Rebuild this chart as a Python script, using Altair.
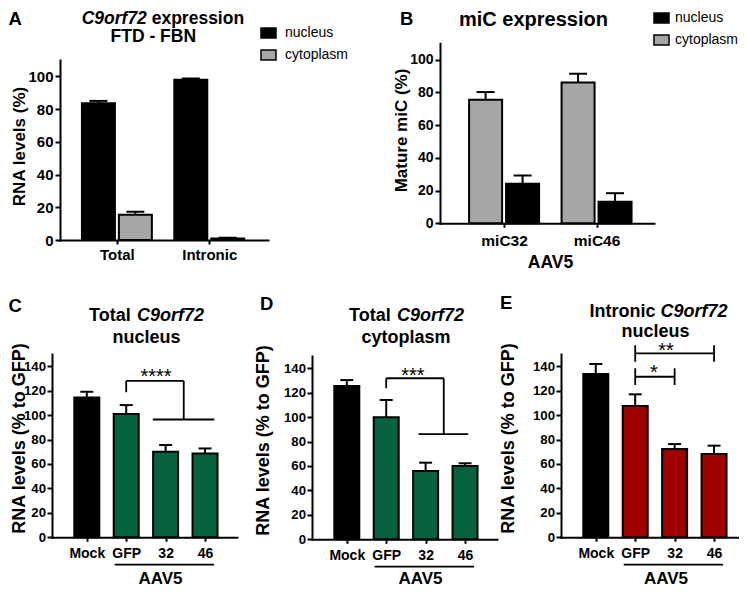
import altair as alt
import pandas as pd

FONT = "Liberation Sans"
GREEN = "#07633f"
RED = "#9e0000"
GRAY = "#a6a6a8"

# ----------------------------- data -----------------------------
a_categories = ["Total", "Intronic"]
a_nucleus = [83.5, 98.0]
a_nucleus_err = [1.5, 0.7]
a_cytoplasm = [15.4, 0.9]
a_cytoplasm_err = [1.9, 0.5]

b_categories = ["miC32", "miC46"]
b_cytoplasm = [75.5, 86.1]
b_cytoplasm_err = [4.7, 5.3]
b_nucleus = [24.1, 13.2]
b_nucleus_err = [5.1, 5.2]

cde_categories = ["Mock", "GFP", "32", "46"]
c_values = [114.5, 100.9, 70.0, 68.5]
c_err = [4.6, 7.3, 5.5, 4.2]
d_values = [125.4, 99.8, 55.9, 60.0]
d_err = [4.9, 14.2, 6.8, 2.2]
e_values = [133.6, 107.4, 72.2, 68.2]
e_err = [8.2, 9.6, 4.1, 6.8]

# significance brackets: [x1, y1, x2, y2] (category units, data units)
c_bracket = [[1, 118.7, 1, 128.0], [1, 128.0, 2.46, 128.0],
             [2.46, 128.0, 2.46, 96.4], [1.675, 96.4, 3.235, 96.4]]
c_stars = [["****", 1.757, 126.2]]
d_bracket = [[1, 123.6, 1, 131.8], [1, 131.8, 2.46, 131.8],
             [2.46, 131.8, 2.46, 86.0], [1.82, 86.0, 3.08, 86.0]]
d_stars = [["***", 1.675, 129.0]]
e_bracket = [[1, 150.5, 3, 150.5], [1, 143.7, 1, 157.2], [3, 143.7, 3, 157.2],
             [1, 131.4, 2, 131.4], [1, 124.6, 1, 138.3], [2, 124.6, 2, 138.3]]
e_stars = [["**", 1.78, 147.4], ["*", 1.476, 129.5]]
aav5_line = [[0.708, -22.4, 3.23, -22.4]]

# ----------------------------- canvas -----------------------------
W, H = 731, 579          # drawing canvas (page minus 8px body margin)
OX, OY = 8, 8            # page offset of the canvas


def cx(px):
    return px - OX


def cy(py):
    return py - OY


BOLD_W = {" ": 278, "C": 722, "9": 556, "o": 611, "r": 389, "f": 333, "7": 556,
          "2": 556, "e": 556, "x": 556, "p": 611, "s": 556, "i": 278, "n": 611,
          "T": 611, "t": 333, "a": 556, "l": 278, "I": 278, "c": 556, "u": 611,
          "y": 556, "m": 889}


def text_width(s, size):
    return sum(BOLD_W.get(ch, 556) for ch in s) * size / 1000.0


ONE = pd.DataFrame({"k": [0]})


def label(text, px, py, size, italic=False, align="left", weight="bold"):
    kw = dict(text=text, font=FONT, fontSize=size, fontWeight=weight, align=align,
              baseline="alphabetic", color="black")
    if italic:
        kw["fontStyle"] = "italic"
    return alt.Chart(ONE).mark_text(**kw).encode(x=alt.value(cx(px)), y=alt.value(cy(py)))


def mixed_line(parts, center, py, size):
    widths = [text_width(t, size) for t, _ in parts]
    space = text_width(" ", size)
    total = sum(widths) + space * (len(parts) - 1)
    x = center - total / 2
    out = []
    for (t, it), w in zip(parts, widths):
        out.append(label(t, x, py, size, italic=it))
        x += w + space
    return out


def grouped_df(cats, series, offsets):
    rows = []
    for s, (vals, errs) in series.items():
        for i, c in enumerate(cats):
            rows.append({"cat": c, "series": s, "pos": i + offsets[s],
                         "value": vals[i], "top": vals[i] + errs[i]})
    return pd.DataFrame(rows)


def simple_df(cats, vals, errs):
    return pd.DataFrame({"cat": cats, "pos": list(range(len(cats))), "value": vals,
                         "top": [v + e for v, e in zip(vals, errs)],
                         "grp": ["Mock" if c == "Mock" else "AAV5" for c in cats]})


def x_axis(labels, y_axis_page, size, pad, title=None, title_cx=0, title_page_y=0, tsize=17):
    kw = dict(orient="bottom", offset=cy(y_axis_page) - H,
              values=list(range(len(labels))), labelExpr=str(labels) + "[datum.value]",
              grid=False, domainColor="black", domainWidth=2, domainCap="square",
              tickColor="black", tickWidth=2, tickSize=4, labelFont=FONT, labelFontSize=size,
              labelFontWeight="bold", labelColor="black", labelPadding=pad,
              labelFlush=False, labelOverlap=False)
    if title:
        kw.update(title=title, titleX=cx(title_cx), titleY=title_page_y - y_axis_page,
                  titleFont=FONT, titleFontSize=tsize, titleFontWeight="bold",
                  titleColor="black", titleBaseline="alphabetic", titleAlign="center")
    else:
        kw.update(title=None)
    return alt.Axis(**kw)


def y_axis(x_axis_page, values, size, pad, title, title_page_x, title_page_y, tsize):
    return alt.Axis(orient="left", offset=-cx(x_axis_page), values=values, grid=False,
                    domainColor="black", domainWidth=2, domainCap="square",
                    tickColor="black", tickWidth=2, tickSize=5, labelFont=FONT,
                    labelFontSize=size, labelFontWeight="bold", labelColor="black",
                    labelPadding=pad, labelFlush=False, labelOverlap=False,
                    title=title, titleX=title_page_x - x_axis_page, titleY=cy(title_page_y),
                    titleFont=FONT, titleFontSize=tsize, titleFontWeight="bold",
                    titleColor="black", titleBaseline="alphabetic", titleAlign="center")


def build_panel(df, box, xdom, ydom, xax, yax, color, bar_w, cap_w, texts,
                segments=None, stars=None):
    x0, x1, y0, y1 = box
    xs = alt.Scale(domain=xdom, range=[cx(x0), cx(x1)], nice=False, zero=False)
    ys = alt.Scale(domain=ydom, range=[cy(y0), cy(y1)], nice=False, zero=False)
    X = lambda f: alt.X(f, scale=xs, axis=xax)
    Y = lambda f: alt.Y(f, scale=ys, axis=yax)
    bars = alt.Chart(df).mark_bar(width=bar_w, stroke="black", strokeWidth=2, opacity=1,
                                  orient="vertical").encode(
        x=X("pos:Q"), y=alt.Y("value:Q", scale=ys, axis=yax, stack=None), color=color)
    err = alt.Chart(df).mark_rule(color="black", strokeWidth=2).encode(
        x=X("pos:Q"), y=Y("value:Q"), y2="top:Q")
    caps = alt.Chart(df).mark_tick(color="black", thickness=2, size=cap_w,
                                   orient="horizontal", opacity=1).encode(
        x=X("pos:Q"), y=Y("top:Q"))
    layers = [bars, err, caps]
    if segments:
        sdf = pd.DataFrame(segments, columns=["x1", "y1", "x2", "y2"])
        layers.append(alt.Chart(sdf).mark_rule(color="black", strokeWidth=1.8).encode(
            x=X("x1:Q"), x2="x2:Q", y=Y("y1:Q"), y2="y2:Q"))
    if stars:
        tdf = pd.DataFrame(stars, columns=["t", "x", "y"])
        layers.append(alt.Chart(tdf).mark_text(font=FONT, fontSize=20, align="center",
                                               baseline="alphabetic", color="black").encode(
            x=X("x:Q"), y=Y("y:Q"), text="t:N"))
    layers += texts
    return alt.layer(*layers)


def legend(page_x, page_y, offset):
    return alt.Legend(orient="none", legendX=cx(page_x), legendY=cy(page_y),
                      direction="vertical", title=None,
                      symbolType="M-1,-0.667H1V0.667H-1Z", symbolSize=225,
                      symbolStrokeColor="black", symbolStrokeWidth=1.5, symbolOpacity=1,
                      labelFont=FONT, labelFontSize=14, labelColor="black",
                      labelFontWeight="normal", labelOffset=offset, rowPadding=5, padding=0)


# ----------------------------- panel A -----------------------------
A_BOX = (60, 268, 240, 60)
a_df = grouped_df(a_categories,
                  {"nucleus": (a_nucleus, a_nucleus_err),
                   "cytoplasm": (a_cytoplasm, a_cytoplasm_err)},
                  {"nucleus": -0.2, "cytoplasm": 0.2})
A = build_panel(
    a_df, A_BOX, [-0.562, 1.582], [0, 110],
    x_axis(a_categories, A_BOX[2], 15, 3),
    y_axis(A_BOX[0], [0, 20, 40, 60, 80, 100], 15, 2, "RNA levels (%)", 24, 146, 17),
    alt.Color("series:N", scale=alt.Scale(domain=["nucleus", "cytoplasm"],
                                          range=["black", GRAY]),
              legend=legend(260, 24.5, 8)),
    33, 18,
    [label("A", 8.5, 25, 18.5)]
    + mixed_line([("C9orf72", True), ("expression", False)], 162.9, 24, 17.5)
    + [label("FTD - FBN", 153.3, 41.5, 17.5, align="center")])

# ----------------------------- panel B -----------------------------
B_BOX = (440, 654, 223.3, 43.3)
b_df = grouped_df(b_categories,
                  {"cytoplasm": (b_cytoplasm, b_cytoplasm_err),
                   "nucleus": (b_nucleus, b_nucleus_err)},
                  {"cytoplasm": -0.2, "nucleus": 0.2})
B = build_panel(
    b_df, B_BOX, [-0.639, 1.567], [0, 110],
    x_axis(b_categories, B_BOX[2], 15.5, 6.5, "AAV5", 550, 267, 17.5),
    y_axis(B_BOX[0], [0, 20, 40, 60, 80, 100], 14, 2, "Mature miC (%)", 406, 130, 17),
    alt.Color("series:N", scale=alt.Scale(domain=["nucleus", "cytoplasm"],
                                          range=["black", GRAY]),
              legend=legend(653, 9.5, 5)),
    33, 18,
    [label("B", 400, 25, 18.5), label("miC expression", 533.5, 26, 20, align="center")])


# ----------------------------- panels C, D, E -----------------------------
def cde_panel(box, vals, errs, fill, xtitle_x, ytitle_x, ytitle_y, texts, segments, stars):
    return build_panel(
        simple_df(cde_categories, vals, errs), box, [-0.756, 3.684], [0, 150],
        x_axis(cde_categories, box[2], 14, 5.5, "AAV5", xtitle_x, 583, 17),
        y_axis(box[0], [0, 20, 40, 60, 80, 100, 120, 140], 13.2, 1.5,
               "RNA levels (% to GFP)", ytitle_x, ytitle_y, 18),
        alt.Color("grp:N", scale=alt.Scale(domain=["Mock", "AAV5"], range=["black", fill]),
                  legend=None),
        25, 13, texts, segments, stars)


C_BOX = (52, 237, 537.3, 354)
D_BOX = (312, 497, 539.3, 356)
E_BOX = (561, 746, 537.3, 354)

C = cde_panel(C_BOX, c_values, c_err, GREEN, 160, 24.5, 438,
              [label("C", 8.5, 312, 18.5)]
              + mixed_line([("Total", False), ("C9orf72", True)], 146.5, 321, 18)
              + [label("nucleus", 146.5, 343, 18, align="center")],
              c_bracket + aav5_line, c_stars)
D = cde_panel(D_BOX, d_values, d_err, GREEN, 420, 268, 440,
              [label("D", 260, 310, 18.5)]
              + mixed_line([("Total", False), ("C9orf72", True)], 406.5, 321, 18)
              + [label("cytoplasm", 406, 343, 18, align="center")],
              d_bracket + aav5_line, d_stars)
E = cde_panel(E_BOX, e_values, e_err, RED, 665.5, 513, 438,
              [label("E", 500, 309, 18.5)]
              + mixed_line([("Intronic", False), ("C9orf72", True)], 658.5, 317, 18)
              + [label("nucleus", 655.5, 337, 18, align="center")],
              e_bracket + aav5_line, e_stars)

# ----------------------------- assemble -----------------------------
chart = alt.layer(A, B, C, D, E).resolve_scale(
    x="independent", y="independent", color="independent"
).resolve_axis(
    x="independent", y="independent"
).resolve_legend(
    color="independent"
).properties(
    width=W, height=H, padding=0, autosize=alt.AutoSizeParams(type="none")
).configure(font=FONT).configure_view(strokeWidth=0)

chart.save("out.html", embed_options={"renderer": "svg", "actions": False})
